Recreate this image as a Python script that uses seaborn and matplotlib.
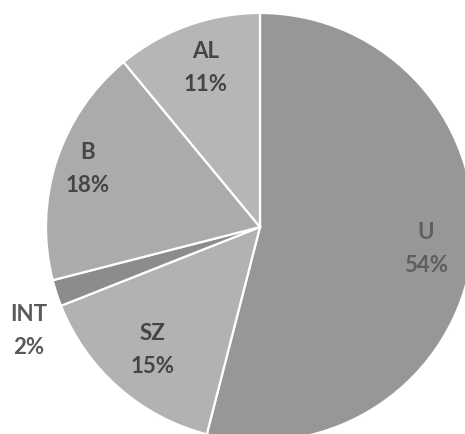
import numpy as np
import matplotlib
matplotlib.use("Agg")
import matplotlib.pyplot as plt
import seaborn as sns

categories = ["U", "SZ", "INT", "B", "AL"]
values = [54, 15, 2, 18, 11]
colors = ["#979797", "#b2b2b2", "#8c8c8c", "#ababab", "#b6b6b6"]
text_colors = ["#5e5e5e", "#454545", "#5a5a5a", "#454545", "#454545"]

sns.set_style("white")
plt.rcParams['font.family'] = ['Lato', 'DejaVu Sans']

fig = plt.figure(figsize=(4.65, 4.35), dpi=100)
R = 214
cx, cy = 260, 228
ax = fig.add_axes([(cx - R) / 465, (435 - cy - R) / 435, 2 * R / 465, 2 * R / 435])
wedges, _ = ax.pie(values, colors=colors, startangle=90, counterclock=False,
                   radius=1.0, wedgeprops=dict(edgecolor="white", linewidth=1.6))
ax.set_xlim(-1, 1)
ax.set_ylim(-1, 1)
ax.set_aspect("equal")
ax.axis("off")

dist = {"U": 0.78, "SZ": 0.76, "INT": 1.185, "B": 0.85, "AL": 0.79}
shift = {"INT": 6, "B": -1, "AL": -1}
for w, cat, v, tc in zip(wedges, categories, values, text_colors):
    ang = np.deg2rad((w.theta1 + w.theta2) / 2 + shift.get(cat, 0))
    d = dist[cat]
    ax.text(d * np.cos(ang), d * np.sin(ang), f"{cat}\n{v}%", ha="center", va="center",
            fontsize=16, fontweight="bold", color=tc, linespacing=1.7)

fig.savefig("out.png", dpi=100)
